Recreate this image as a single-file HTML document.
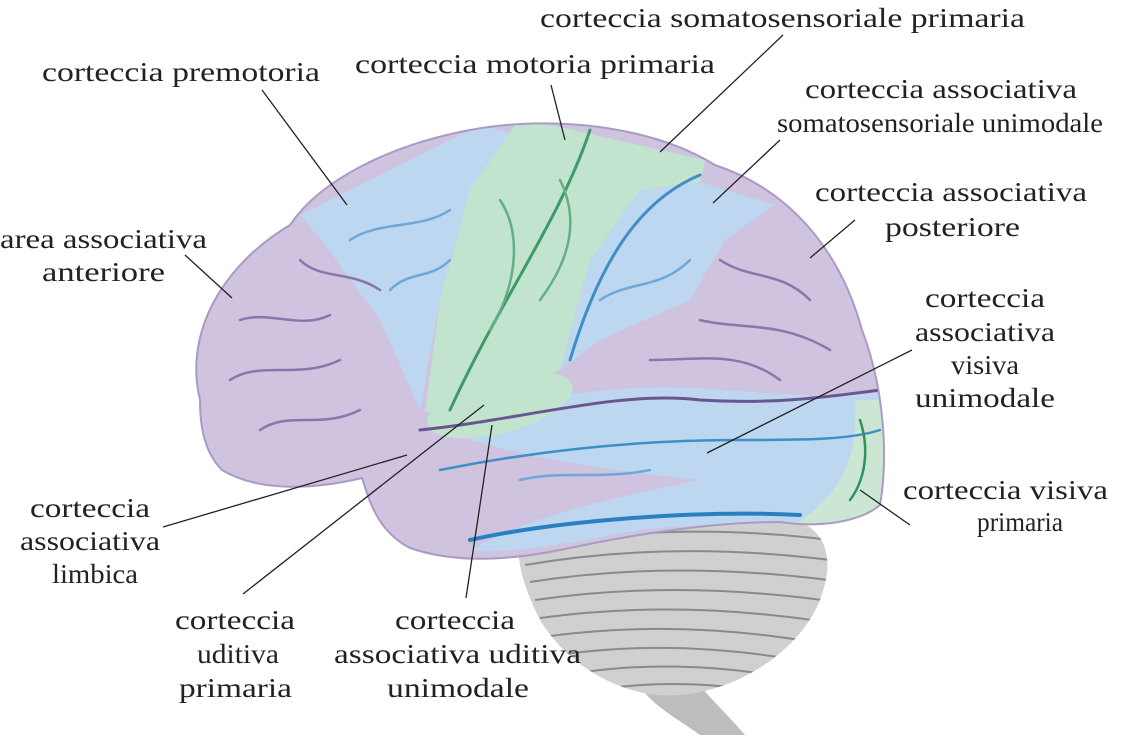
<!DOCTYPE html>
<html><head><meta charset="utf-8"><style>
html,body{margin:0;padding:0;background:#fff;}
svg{display:block}
text{font-family:"Liberation Serif",serif;font-size:27px;fill:#222;}
</style></head><body>
<svg width="1132" height="743" viewBox="0 0 1132 743" xmlns="http://www.w3.org/2000/svg">
<defs>
<clipPath id="brain">
<path d="M200,400 C185,340 215,270 290,225 C320,180 390,145 470,130 C550,115 650,125 715,165 C790,190 840,250 862,330 C885,390 888,460 880,505 C860,522 820,528 780,522 C710,522 630,535 560,550 C500,562 450,562 410,548 C375,530 368,495 362,478 C320,488 262,494 222,470 C202,450 200,420 200,400 Z"/>
</clipPath>
<clipPath id="cereb">
<path d="M520,540 C560,515 700,505 780,515 C830,525 835,560 820,600 C800,650 740,690 680,695 C630,700 570,670 540,620 C525,590 515,560 520,540 Z"/>
</clipPath>
</defs>

<path d="M640,685 C650,705 680,720 700,735 L745,735 C725,712 712,700 702,688 Z" fill="#bdbdbd"/>
<path d="M520,540 C560,515 700,505 780,515 C830,525 835,560 820,600 C800,650 740,690 680,695 C630,700 570,670 540,620 C525,590 515,560 520,540 Z" fill="#d0d0d0"/>
<g clip-path="url(#cereb)" stroke="#8a8a8a" stroke-width="2" fill="none">
<path d="M520,548 Q670,520 830,540"/><path d="M525,565 Q670,540 830,560"/><path d="M530,582 Q670,560 828,580"/>
<path d="M535,600 Q670,580 822,600"/><path d="M540,618 Q670,600 812,620"/><path d="M550,636 Q670,620 800,640"/>
<path d="M565,654 Q670,640 785,658"/><path d="M585,672 Q670,660 765,674"/><path d="M610,688 Q670,680 740,688"/>
</g>

<g clip-path="url(#brain)">
<rect x="180" y="100" width="720" height="480" fill="#cfc3e0"/>
<polygon points="300,215 480,125 520,135 470,190 440,300 420,410 380,320 320,238" fill="#bcd7ef"/>
<polygon points="520,118 705,160 700,182 640,190 590,260 560,370 470,410 425,412 440,300 470,190" fill="#c2e3cd"/>
<polygon points="640,190 700,182 775,205 725,240 690,300 600,340 560,370 590,260" fill="#bcd7ef"/>
<path d="M430,425 C520,400 620,380 720,390 C800,395 850,400 890,390 L890,520 C820,530 720,520 640,530 C560,545 500,555 470,550 C520,520 600,500 700,480 C600,470 500,455 430,425 Z" fill="#bcd7ef"/>
<ellipse cx="500" cy="405" rx="75" ry="28" transform="rotate(-15 500 405)" fill="#c2e3cd"/>
<path d="M855,400 L895,400 L895,520 L795,525 C830,500 860,470 855,400 Z" fill="#cbe6d3"/>
<g fill="none" stroke-linecap="round">
<path d="M590,130 C560,220 500,300 450,410" stroke="#3f9a6a" stroke-width="3"/>
<path d="M700,175 C640,200 600,260 570,360" stroke="#3f8fc6" stroke-width="3"/>
<path d="M420,430 C520,420 620,390 700,400 C780,405 840,395 880,390" stroke="#6a5590" stroke-width="3"/>
<path d="M440,470 C540,450 640,440 740,440 C800,440 850,440 880,430" stroke="#3f8fc6" stroke-width="2.5"/>
<path d="M470,540 C560,520 700,510 800,515" stroke="#2a7fbf" stroke-width="4"/>
<path d="M860,420 C870,450 865,480 850,500" stroke="#2f9060" stroke-width="2.5"/>
<g stroke="#8a75ad" stroke-width="2.5">
<path d="M240,320 C270,310 300,330 330,315"/><path d="M230,380 C260,360 300,380 340,360"/>
<path d="M260,430 C290,410 320,430 360,410"/><path d="M300,260 C320,280 350,270 380,290"/>
<path d="M720,260 C750,280 780,270 810,300"/><path d="M700,320 C740,330 780,320 830,350"/>
<path d="M650,360 C700,360 740,350 780,380"/>
</g>
<g stroke="#6fa8d6" stroke-width="2.5">
<path d="M350,240 C380,220 420,230 450,210"/><path d="M390,290 C410,270 430,280 450,260"/>
<path d="M600,300 C630,280 660,290 690,260"/><path d="M520,480 C560,470 600,480 650,470"/>
</g>
<g stroke="#63b086" stroke-width="2.5">
<path d="M500,200 C520,230 520,280 490,330"/><path d="M560,180 C580,220 570,260 540,300"/>
</g>
</g>
</g>
<path d="M200,400 C185,340 215,270 290,225 C320,180 390,145 470,130 C550,115 650,125 715,165 C790,190 840,250 862,330 C885,390 888,460 880,505 C860,522 820,528 780,522 C710,522 630,535 560,550 C500,562 450,562 410,548 C375,530 368,495 362,478 C320,488 262,494 222,470 C202,450 200,420 200,400 Z" fill="none" stroke="#a99bc4" stroke-width="2"/>

<g stroke="#222222" stroke-width="1.3" fill="none">
<path d="M262,90 L347,205"/>
<path d="M551,85 L565,140"/>
<path d="M783,35 L660,152"/>
<path d="M780,140 L713,203"/>
<path d="M855,220 L810,258"/>
<path d="M185,255 L232,298"/>
<path d="M912,350 L707,453"/>
<path d="M910,525 L860,490"/>
<path d="M163,527 L407,455"/>
<path d="M243,594 L484,405"/>
<path d="M466,598 L492,425"/>
</g>

<g>
<text x="540" y="27" textLength="485" lengthAdjust="spacingAndGlyphs">corteccia somatosensoriale primaria</text>
<text x="42" y="81" textLength="278" lengthAdjust="spacingAndGlyphs">corteccia premotoria</text>
<text x="355" y="73" textLength="360" lengthAdjust="spacingAndGlyphs">corteccia motoria primaria</text>
<text x="805" y="98" textLength="272" lengthAdjust="spacingAndGlyphs">corteccia associativa</text>
<text x="777" y="132" textLength="326" lengthAdjust="spacingAndGlyphs">somatosensoriale unimodale</text>
<text x="815" y="201" textLength="272" lengthAdjust="spacingAndGlyphs">corteccia associativa</text>
<text x="885" y="236" textLength="135" lengthAdjust="spacingAndGlyphs">posteriore</text>
<text x="0" y="248" textLength="207" lengthAdjust="spacingAndGlyphs">area associativa</text>
<text x="42" y="281" textLength="123" lengthAdjust="spacingAndGlyphs">anteriore</text>
<text x="925" y="307" textLength="120" lengthAdjust="spacingAndGlyphs">corteccia</text>
<text x="915" y="341" textLength="140" lengthAdjust="spacingAndGlyphs">associativa</text>
<text x="951" y="374" textLength="68" lengthAdjust="spacingAndGlyphs">visiva</text>
<text x="915" y="407" textLength="140" lengthAdjust="spacingAndGlyphs">unimodale</text>
<text x="903" y="499" textLength="205" lengthAdjust="spacingAndGlyphs">corteccia visiva</text>
<text x="977" y="531" textLength="86" lengthAdjust="spacingAndGlyphs">primaria</text>
<text x="30" y="517" textLength="120" lengthAdjust="spacingAndGlyphs">corteccia</text>
<text x="20" y="550" textLength="140" lengthAdjust="spacingAndGlyphs">associativa</text>
<text x="52" y="583" textLength="86" lengthAdjust="spacingAndGlyphs">limbica</text>
<text x="175" y="629" textLength="120" lengthAdjust="spacingAndGlyphs">corteccia</text>
<text x="197" y="663" textLength="82" lengthAdjust="spacingAndGlyphs">uditiva</text>
<text x="179" y="697" textLength="113" lengthAdjust="spacingAndGlyphs">primaria</text>
<text x="395" y="629" textLength="120" lengthAdjust="spacingAndGlyphs">corteccia</text>
<text x="334" y="663" textLength="247" lengthAdjust="spacingAndGlyphs">associativa uditiva</text>
<text x="387" y="697" textLength="142" lengthAdjust="spacingAndGlyphs">unimodale</text>
</g>
</svg>
</body></html>
